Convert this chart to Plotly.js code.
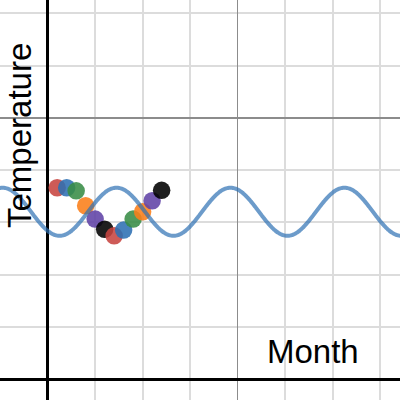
<!DOCTYPE html>
<html>
<head>
<meta charset="utf-8">
<script src="https://cdn.plot.ly/plotly-3.0.1.min.js"></script>
<style>html,body{margin:0;padding:0;background:#fff}#chart{width:400px;height:400px}</style>
</head>
<body>
<div id="chart"></div>
<script>
// Data
const months = [1, 2, 3, 4, 5, 6, 7, 8, 9, 10, 11, 12];
const temperatures = [73.3, 73.3, 72.1, 66.4, 61.3, 57.4, 54.9, 57.1, 61.3, 64.1, 68.3, 72.3];
const pointColors = ["#c74440", "#2d70b3", "#388c46", "#fa7e19", "#6042a6", "#000000",
                     "#c74440", "#2d70b3", "#388c46", "#fa7e19", "#6042a6", "#000000"];
// Sinusoidal model curve parameters
const curveMid = [64.1];
const curveAmp = [9.2];
const curvePeriod = [12];
const curvePeakMonth = [7.25];
const xTitle = "Month";
const yTitle = "Temperature";

const curveX = [];
const curveY = [];
for (let i = 0; i <= 440; i++) {
  const x = -5.5 + i * 0.1;
  curveX.push(x);
  curveY.push(curveMid[0] + curveAmp[0] * Math.cos(2 * Math.PI * (x - curvePeakMonth[0]) / curvePeriod[0]));
}

const traces = [
  {
    x: months, y: temperatures, type: "scatter", mode: "markers",
    marker: {size: 17.5, color: pointColors, opacity: 0.88, line: {width: 0}},
    hoverinfo: "skip"
  },
  {
    x: curveX, y: curveY, type: "scatter", mode: "lines",
    line: {color: "#2d70b3", width: 4, shape: "spline"}, opacity: 0.7,
    hoverinfo: "skip"
  }
];

const axisCommon = {
  showticklabels: false, ticks: "", showline: false,
  zeroline: true, zerolinecolor: "#000", zerolinewidth: 3,
  gridcolor: "#8c8c8c", gridwidth: 1.5,
  fixedrange: true
};

const layout = {
  width: 400, height: 400,
  margin: {l: 0, r: 0, t: 0, b: 0},
  paper_bgcolor: "#fff", plot_bgcolor: "#fff",
  showlegend: false,
  xaxis: Object.assign({}, axisCommon, {
    range: [-5.02, 37.1], tick0: 0, dtick: 20,
    minor: {dtick: 5, tick0: 0, showgrid: true, gridcolor: "#dcdcdc", gridwidth: 2}
  }),
  yaxis: Object.assign({}, axisCommon, {
    range: [-7.9, 145.1], tick0: 0, dtick: 100,
    minor: {dtick: 20, tick0: 0, showgrid: true, gridcolor: "#dcdcdc", gridwidth: 2}
  }),
  annotations: [
    {text: yTitle, xref: "paper", yref: "paper", x: 19.5 / 400, y: 1 - 135.5 / 400,
     xanchor: "center", yanchor: "middle", textangle: -90, showarrow: false,
     font: {family: "Liberation Sans, Arial, sans-serif", size: 33, color: "#000"}},
    {text: xTitle, xref: "paper", yref: "paper", x: 313 / 400, y: 1 - 351 / 400,
     xanchor: "center", yanchor: "middle", showarrow: false,
     font: {family: "Liberation Sans, Arial, sans-serif", size: 33, color: "#000"}}
  ]
};

Plotly.newPlot("chart", traces, layout, {staticPlot: true, displayModeBar: false});
</script>
</body>
</html>
